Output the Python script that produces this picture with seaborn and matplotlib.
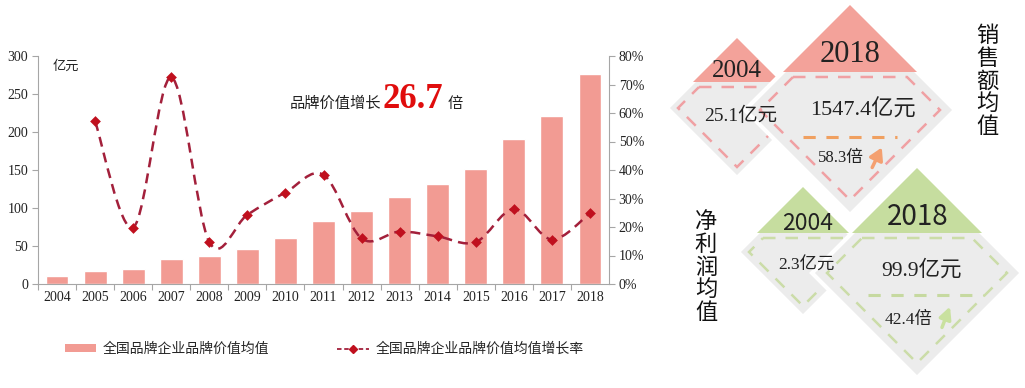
import numpy as np
import pandas as pd
import matplotlib
matplotlib.use("Agg")
import matplotlib.pyplot as plt
import seaborn as sns
from matplotlib.path import Path
from matplotlib.patches import PathPatch, Polygon, Patch
from matplotlib.lines import Line2D

# data
years = [str(y) for y in range(2004, 2019)]
brand_value = [10, 16.6, 19.2, 33, 37, 46, 61, 82.5, 96, 114, 132, 151.5, 191, 221, 276]
growth_rate = [np.nan, 57.1, 19.8, 72.5, 14.7, 24.3, 32.1, 38.3, 16.0, 18.4, 16.7, 14.7, 26.3, 15.6, 24.9]

bar_label = "全国品牌企业品牌价值均值"
line_label = "全国品牌企业品牌价值均值增长率"
growth_times = "26.7"

sales_years = ["2004", "2018"]
sales_values = ["25.1亿元", "1547.4亿元"]
sales_multiple = "58.3倍"
profit_years = ["2004", "2018"]
profit_values = ["2.3亿元", "99.9亿元"]
profit_multiple = "42.4倍"

W, H = 1025, 388
BAR_C = "#f29b93"
LINE_C = "#a3203b"
MARK_C = "#c0101e"
AX_C = "#a6a6a6"
PINK = "#f3a29a"
GREEN = "#c6dd9f"
GRAY = "#ececec"

sns.set_theme(style="white")
plt.rcParams["font.family"] = ["Liberation Serif", "Noto Sans CJK SC", "DejaVu Sans"]
CJK = ["Noto Sans CJK SC", "DejaVu Sans"]
SERIF = ["Liberation Serif", "Noto Sans CJK SC"]


def fx(x):
    return x / W


def fy(y):
    return 1 - y / H


def smooth_path(xs, ys):
    # Excel-like smoothed line: Catmull-Rom segments as cubic Beziers
    pts = np.column_stack([xs, ys])
    n = len(pts)
    verts, codes = [pts[0]], [Path.MOVETO]
    for i in range(n - 1):
        p0 = pts[i - 1] if i > 0 else pts[i]
        p1, p2 = pts[i], pts[i + 1]
        p3 = pts[i + 2] if i + 2 < n else pts[i + 1]
        verts += [p1 + (p2 - p0) / 6, p2 - (p3 - p1) / 6, p2]
        codes += [Path.CURVE4] * 3
    return Path(verts, codes)


fig = plt.figure(figsize=(W / 100, H / 100), dpi=100)
fig.patch.set_facecolor("white")

# ---------- right side infographic (pixel coordinates) ----------
info = fig.add_axes([0, 0, 1, 1])
info.set_xlim(0, W)
info.set_ylim(H, 0)
info.axis("off")
info.patch.set_alpha(0)


def diamond(cx, cy, r, h, head_c, dash_c, inset):
    info.add_patch(Polygon([(cx, cy - r), (cx + r, cy), (cx, cy + r), (cx - r, cy)],
                           closed=True, facecolor=GRAY, edgecolor="white", lw=3))
    info.add_patch(Polygon([(cx, cy - r), (cx + h, cy - r + h), (cx - h, cy - r + h)],
                           closed=True, facecolor=head_c, edgecolor="none"))
    ri = r - inset
    yt = cy - r + h + 5
    wt = ri - abs(yt - cy)
    info.add_patch(Polygon([(cx - wt, yt), (cx + wt, yt), (cx + ri, cy), (cx, cy + ri), (cx - ri, cy)],
                           closed=True, facecolor="none", edgecolor=dash_c, lw=1.8,
                           linestyle=(0, (5, 4))))


diamond(737, 108, 70, 44, PINK, "#f0a0a3", 11)
diamond(850, 110, 105, 67, PINK, "#f0a0a3", 15)
diamond(803, 252, 65, 46, GREEN, "#cbdca8", 11)
diamond(917, 273, 105, 65, GREEN, "#cbdca8", 15)

info.text(737, 71, sales_years[0], fontsize=18, family=SERIF, ha="center", va="center", color="#222")
info.text(850, 55, sales_years[1], fontsize=22, family=SERIF, ha="center", va="center", color="#222")
info.text(741, 116, sales_values[0], fontsize=14, family=SERIF, ha="center", va="center", color="#222")
info.text(863, 110, sales_values[1], fontsize=16, family=SERIF, ha="center", va="center", color="#222")
info.plot([803, 897], [137, 137], color="#f0a060", lw=2.2, ls=(0, (4, 3.5)))
info.text(841, 158, sales_multiple, fontsize=12, family=SERIF, ha="center", va="center", color="#222")
info.annotate("", xy=(883, 145), xytext=(871, 170),
              arrowprops=dict(arrowstyle="-|>,head_width=0.35,head_length=0.6", color="#f4a070", lw=2.5))
info.text(987, 81, "\n".join("销售额均值"), fontsize=16, family=CJK, ha="center", va="center",
          linespacing=0.98, color="#111")

info.text(808, 223, profit_years[0], fontsize=16.5, family=CJK, ha="center", va="center", color="#222")
info.text(918, 217, profit_years[1], fontsize=20, family=CJK, ha="center", va="center", color="#222")
info.text(806, 266, profit_values[0], fontsize=12.5, family=SERIF, ha="center", va="center", color="#222")
info.text(922, 270, profit_values[1], fontsize=15.5, family=SERIF, ha="center", va="center", color="#222")
info.plot([868, 983], [295, 295], color="#c6d9a0", lw=2.2, ls=(0, (4, 3.5)))
info.text(909, 320, profit_multiple, fontsize=12.5, family=SERIF, ha="center", va="center", color="#222")
info.annotate("", xy=(951, 304), xytext=(941, 330),
              arrowprops=dict(arrowstyle="-|>,head_width=0.3,head_length=0.6", color="#c9e19f", lw=2.5))
info.text(706, 267, "\n".join("净利润均值"), fontsize=16, family=CJK, ha="center", va="center",
          linespacing=0.98, color="#111")

# ---------- left side combo chart ----------
ax = fig.add_axes([fx(38), fy(284), (609 - 38) / W, (284 - 56) / H])
df = pd.DataFrame({"year": years, "value": brand_value, "rate": growth_rate})
sns.barplot(data=df, x="year", y="value", color=BAR_C, saturation=1, width=0.6, ax=ax)
ax.set_xlim(-0.5, len(years) - 0.5)
ax.set_ylim(0, 300)
ax.set_yticks(range(0, 301, 50))
ax.set_xlabel("")
ax.set_ylabel("")
ax.set_xticks(np.arange(len(years)) - 0.5, minor=True)
ax.tick_params(axis="x", which="major", length=0, labelsize=10, pad=5, colors="#222")
ax.tick_params(axis="x", which="minor", length=4, color=AX_C, width=0.8, bottom=True)
ax.tick_params(axis="y", length=4, color=AX_C, width=0.8, labelsize=10, pad=3, left=True,
               labelcolor="#222")
for s in ["top", "right"]:
    ax.spines[s].set_visible(False)
for s in ["left", "bottom"]:
    ax.spines[s].set_color(AX_C)
    ax.spines[s].set_linewidth(0.8)

ax2 = ax.twinx()
ax2.set_ylim(0, 80)
ax2.set_yticks(range(0, 81, 10))
ax2.set_yticklabels([f"{v}%" for v in range(0, 81, 10)])
ax2.tick_params(axis="y", length=4, color=AX_C, width=0.8, labelsize=10, pad=3, right=True,
                labelcolor="#222")
for s in ["top", "left", "bottom"]:
    ax2.spines[s].set_visible(False)
ax2.spines["right"].set_color(AX_C)
ax2.spines["right"].set_linewidth(0.8)
ax2.grid(False)

rate_df = df.dropna()
xpos = [years.index(y) for y in rate_df["year"]]
ax2.add_patch(PathPatch(smooth_path(xpos, rate_df["rate"].values), facecolor="none",
                        edgecolor=LINE_C, lw=1.8, linestyle=(0, (4, 2.5))))
sns.scatterplot(x=xpos, y=rate_df["rate"].values, marker="D", s=30, color=MARK_C,
                edgecolor=MARK_C, linewidth=0, ax=ax2, zorder=5)

fig.text(fx(53), fy(66), "亿元", fontsize=9.5, family=CJK, va="center", color="#222")
fig.text(fx(290), fy(108), "品牌价值增长", fontsize=11, family=CJK, va="baseline", color="#222")
fig.text(fx(383), fy(108), growth_times, fontsize=25, family=SERIF, weight="bold",
         va="baseline", color="#e00d0d")
fig.text(fx(448), fy(108), "倍", fontsize=11, family=CJK, va="baseline", color="#222")

handles = [Patch(facecolor=BAR_C, edgecolor="none"),
           Line2D([], [], color=LINE_C, ls=(0, (2.5, 1.5)), lw=1.3, marker="D", markersize=4,
                  markerfacecolor=MARK_C, markeredgecolor=MARK_C)]
fig.legend(handles, [bar_label, line_label], loc="center left", bbox_to_anchor=(fx(52), fy(349)),
           ncol=2, frameon=False, prop={"family": CJK, "size": 10}, handlelength=2.3,
           handleheight=0.45, handletextpad=0.45, columnspacing=4.9)

fig.savefig("out.png", dpi=100, facecolor="white")
